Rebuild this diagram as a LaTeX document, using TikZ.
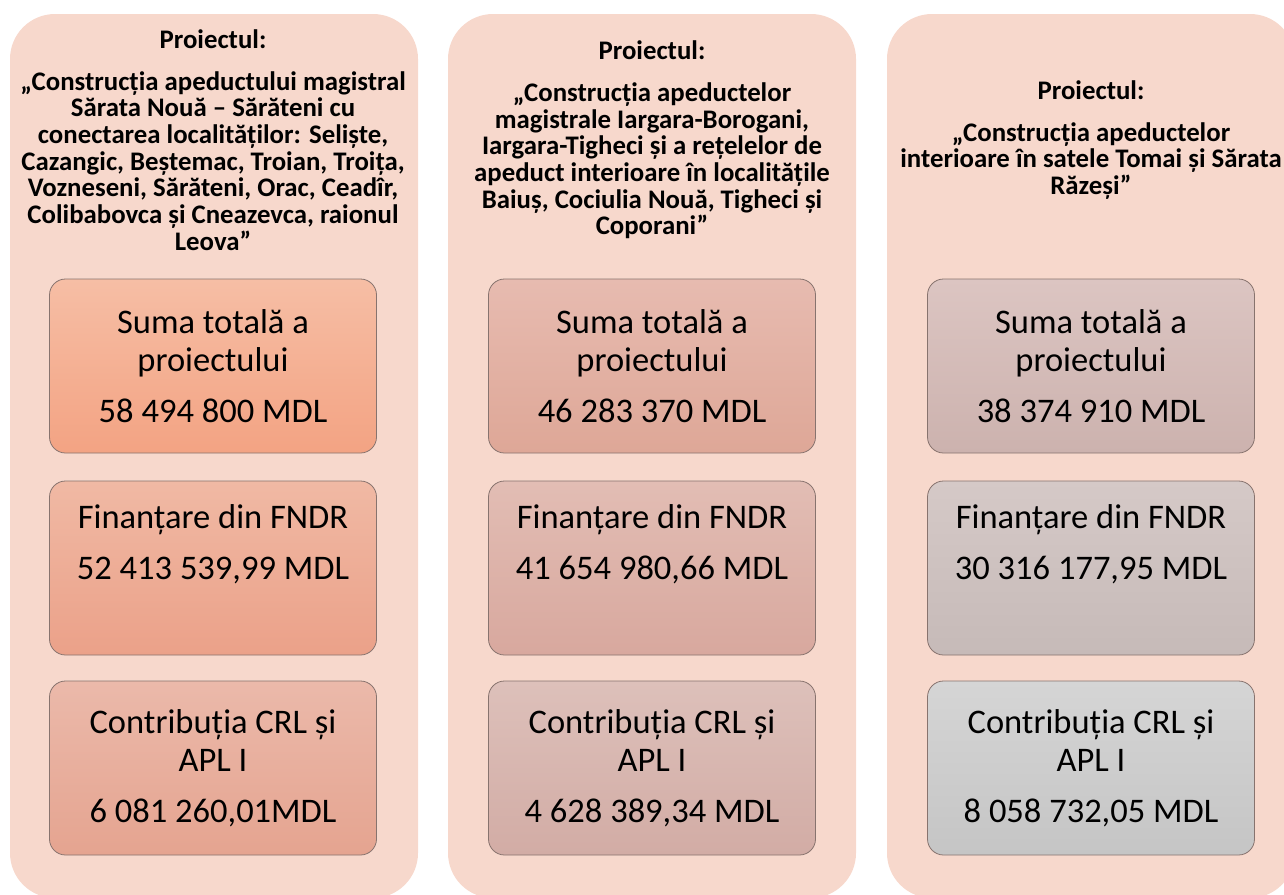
\documentclass[tikz,border=0pt]{standalone}
\usepackage{fontspec}
\setmainfont{Carlito}
\definecolor{panelpink}{RGB}{247,216,204}
\definecolor{boxline}{RGB}{135,115,110}
\definecolor{sumAtop}{RGB}{246,190,165}
\definecolor{sumAbot}{RGB}{243,163,131}
\definecolor{finAtop}{RGB}{240,185,164}
\definecolor{finAbot}{RGB}{235,161,137}
\definecolor{crlAtop}{RGB}{235,185,170}
\definecolor{crlAbot}{RGB}{229,164,144}
\definecolor{sumBtop}{RGB}{231,187,176}
\definecolor{sumBbot}{RGB}{222,167,151}
\definecolor{finBtop}{RGB}{226,189,180}
\definecolor{finBbot}{RGB}{216,168,158}
\definecolor{crlBtop}{RGB}{221,192,186}
\definecolor{crlBbot}{RGB}{210,172,165}
\definecolor{sumCtop}{RGB}{220,197,194}
\definecolor{sumCbot}{RGB}{204,178,174}
\definecolor{finCtop}{RGB}{213,201,199}
\definecolor{finCbot}{RGB}{198,186,184}
\definecolor{crlCtop}{RGB}{213,213,213}
\definecolor{crlCbot}{RGB}{197,197,197}
\newcommand\panelWidth{408}
\newcommand\panelHeight{884}
\newcommand\panelTop{14}
\newcommand\headerY{140}
\newcommand\paraGap{12.5pt}
\newcommand\titleGap{15pt}
\tikzset{
	panel/.style={fill=panelpink, rounded corners=45pt},
	header/.style={align=center, inner sep=0pt, font=\fontsize{26.8}{26.7}\selectfont\bfseries},
	amount/.style={draw=boxline, line width=0.8pt, rounded corners=16pt,
		minimum width=327pt, minimum height=174pt, inner sep=0pt,
		align=center, font=\fontsize{34.5}{38.5}\selectfont},
}
\begin{document}
\begin{tikzpicture}[x=1pt,y=-1pt]
	\useasboundingbox (0,0) rectangle (1284,894);
	\clip (0,0) rectangle (1284,894);
	
	% three project panels
	\foreach \px in {10,448,887}{
		\fill[panel] (\px,\panelTop) rectangle ++(\panelWidth,\panelHeight);
	}
	
	% titles
	\node[header] (titleA) at (213,\headerY) {Proiectul:\\[\titleGap]„Construcția apeductului magistral\\Sărata Nouă – Sărăteni cu\\conectarea localităților: Seliște,\\Cazangic, Beștemac, Troian, Troița,\\Vozneseni, Sărăteni, Orac, Ceadîr,\\Colibabovca și Cneazevca, raionul\\Leova”};
	\node[header] (titleB) at (652,\headerY) {Proiectul:\\[\titleGap]„Construcția apeductelor\\magistrale Iargara-Borogani,\\Iargara-Tigheci și a rețelelor de\\apeduct interioare în localitățile\\Baiuș, Cociulia Nouă, Tigheci și\\Coporani”};
	\node[header] (titleC) at (1091,\headerY) {Proiectul:\\[\titleGap]„Construcția apeductelor\\interioare în satele Tomai și Sărata\\Răzeși”};
	
	% first project
	\node[amount, top color=sumAtop, bottom color=sumAbot] (sumA) at (213,366) {Suma totală a\\proiectului\\[\paraGap]58 494 800 MDL};
	\node[amount, top color=finAtop, bottom color=finAbot, text depth=52pt] (finA) at (213,568) {Finanțare din FNDR\\[\paraGap]52 413 539,99 MDL};
	\node[amount, top color=crlAtop, bottom color=crlAbot] (crlA) at (213,768) {Contribuția CRL și\\APL I\\[\paraGap]6 081 260,01MDL};
	
	% second project
	\node[amount, top color=sumBtop, bottom color=sumBbot] (sumB) at (652,366) {Suma totală a\\proiectului\\[\paraGap]46 283 370 MDL};
	\node[amount, top color=finBtop, bottom color=finBbot, text depth=52pt] (finB) at (652,568) {Finanțare din FNDR\\[\paraGap]41 654 980,66 MDL};
	\node[amount, top color=crlBtop, bottom color=crlBbot] (crlB) at (652,768) {Contribuția CRL și\\APL I\\[\paraGap]4 628 389,34 MDL};
	
	% third project
	\node[amount, top color=sumCtop, bottom color=sumCbot] (sumC) at (1091,366) {Suma totală a\\proiectului\\[\paraGap]38 374 910 MDL};
	\node[amount, top color=finCtop, bottom color=finCbot, text depth=52pt] (finC) at (1091,568) {Finanțare din FNDR\\[\paraGap]30 316 177,95 MDL};
	\node[amount, top color=crlCtop, bottom color=crlCbot] (crlC) at (1091,768) {Contribuția CRL și\\APL I\\[\paraGap]8 058 732,05 MDL};
\end{tikzpicture}
\end{document}
